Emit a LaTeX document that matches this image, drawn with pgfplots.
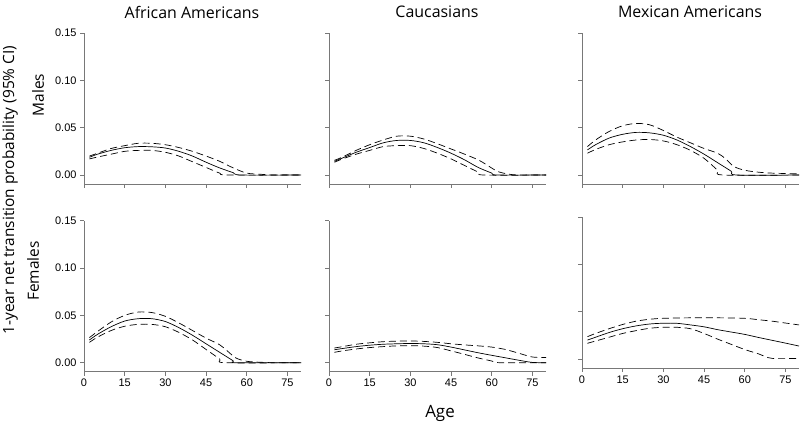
\documentclass[border=0pt]{standalone}
\usepackage{pgfplots}
\pgfplotsset{compat=1.18}
\usepackage{fontspec}
\setmainfont{Liberation Sans}
\newfontfamily\labfont{Open Sans}
\definecolor{axgray}{RGB}{120,120,120}

\pgfplotsset{
  panel/.style={
    scale only axis, width=217bp, height=151bp,
    xmin=0, xmax=80, ymin=-0.0095, ymax=0.15,
    axis x line*=bottom, axis y line*=left,
    axis line style={axgray, line width=0.8bp},
    xtick={0,15,...,75}, ytick={0,0.05,0.10,0.15},
    tick align=outside, major tick length=4bp,
    tick style={axgray, line width=0.6bp},
    /pgf/number format/assume math mode=true,
    yticklabel style={/pgf/number format/fixed, /pgf/number format/fixed zerofill, /pgf/number format/precision=2},
    ticklabel style={font=\fontsize{11}{12}\selectfont},
    anchor=south west,
  },
  notop/.style={xticklabels={}},
  noleft/.style={yticklabels={}},
  est/.style={black, line width=0.7bp, smooth, tension=0.5},
  ci/.style={black, line width=0.7bp, smooth, tension=0.5, dash pattern=on 7bp off 4bp},
}

\begin{document}
\begin{tikzpicture}[x=1bp, y=1bp]
\useasboundingbox (0,0) rectangle (800,424);

% ---------- Males ----------
\begin{axis}[panel, notop, at={(84bp,240bp)}]
\addplot[est] coordinates {(2,.0187)(5,.022)(10,.026)(15,.0288)(20,.030)(25,.0298)(30,.0285)(35,.025)(40,.020)(45,.0135)(50,.0075)(55,.0025)(58,0)(80,0)};
\addplot[ci] coordinates {(2,.020)(5,.023)(10,.028)(15,.031)(20,.0335)(25,.0335)(30,.032)(35,.029)(40,.025)(45,.020)(50,.0145)(55,.0075)(60,.002)(65,.0008)(70,0)(80,0)};
\addplot[ci] coordinates {(2,.017)(5,.019)(10,.022)(15,.025)(20,.026)(25,.026)(30,.024)(35,.020)(40,.014)(45,.008)(50,.002)(53,0)(80,0)};
\end{axis}

\begin{axis}[panel, notop, noleft, at={(329bp,240bp)}]
\addplot[est] coordinates {(2,.0145)(5,.018)(10,.024)(15,.029)(20,.034)(25,.0365)(30,.0365)(35,.034)(40,.029)(45,.023)(50,.016)(55,.008)(60,.002)(62,0)(80,0)};
\addplot[ci] coordinates {(2,.0155)(5,.019)(10,.026)(15,.032)(20,.037)(25,.041)(30,.041)(35,.038)(40,.033)(45,.0275)(50,.022)(55,.016)(58,.011)(62,.004)(66,.001)(70,0)(80,0)};
\addplot[ci] coordinates {(2,.0135)(5,.017)(10,.022)(15,.026)(20,.030)(25,.031)(30,.031)(35,.028)(40,.023)(45,.017)(50,.010)(55,.003)(57,0)(80,0)};
\end{axis}

\begin{axis}[panel, notop, noleft, at={(582bp,240bp)}]
\addplot[est] coordinates {(2,.0265)(5,.032)(10,.039)(15,.043)(20,.045)(25,.0445)(30,.042)(35,.037)(40,.030)(45,.022)(50,.013)(55,.004)(57,0)(80,0)};
\addplot[ci] coordinates {(2,.030)(5,.037)(10,.046)(15,.052)(20,.0545)(25,.053)(30,.047)(35,.040)(40,.034)(45,.028)(50,.023)(53,.017)(56,.009)(60,.005)(65,.003)(70,.002)(80,.0012)};
\addplot[ci] coordinates {(2,.023)(5,.027)(10,.032)(15,.035)(20,.037)(25,.0375)(30,.036)(35,.032)(40,.026)(45,.0176)(50,.005)(52,0)(80,0)};
\end{axis}

% ---------- Females ----------
\begin{axis}[panel, at={(84bp,52.3bp)}]
\addplot[est] coordinates {(2,.024)(5,.030)(10,.038)(15,.044)(20,.0465)(25,.0465)(30,.0435)(35,.037)(40,.029)(45,.020)(50,.011)(55,.002)(56,0)(80,0)};
\addplot[ci] coordinates {(2,.0265)(5,.033)(10,.043)(15,.050)(20,.0535)(25,.053)(30,.049)(35,.042)(40,.034)(45,.026)(50,.019)(53,.012)(56,.005)(60,.0015)(65,.0005)(70,0)(80,0)};
\addplot[ci] coordinates {(2,.0215)(5,.027)(10,.034)(15,.0385)(20,.0405)(25,.0405)(30,.038)(35,.032)(40,.024)(45,.014)(50,.004)(52,0)(80,0)};
\end{axis}

\begin{axis}[panel, noleft, at={(329bp,52.3bp)}]
\addplot[est] coordinates {(2,.0137)(5,.015)(10,.017)(15,.0185)(20,.0195)(25,.020)(30,.0203)(35,.020)(40,.019)(45,.0165)(50,.0135)(55,.0105)(60,.0078)(65,.0052)(70,.0026)(75,.0003)(80,0)};
\addplot[ci] coordinates {(2,.0155)(5,.017)(10,.0195)(15,.021)(20,.0222)(25,.0228)(30,.023)(35,.0225)(40,.0215)(45,.020)(50,.0188)(55,.0178)(60,.0165)(65,.014)(70,.010)(75,.006)(80,.0056)};
\addplot[ci] coordinates {(2,.011)(5,.0125)(10,.0145)(15,.016)(20,.017)(25,.0178)(30,.018)(35,.0175)(40,.016)(45,.0125)(50,.0088)(55,.005)(60,.0018)(63,0)(80,0)};
\end{axis}

\begin{axis}[panel, noleft, at={(582bp,56bp)}]
\addplot[est] coordinates {(2,.020)(5,.023)(10,.028)(15,.032)(20,.035)(25,.037)(30,.0378)(35,.0377)(40,.036)(45,.034)(50,.031)(55,.0285)(60,.026)(65,.0228)(70,.0198)(75,.0168)(80,.0137)};
\addplot[ci] coordinates {(2,.0236)(5,.027)(10,.032)(15,.0365)(20,.040)(25,.042)(30,.043)(40,.0435)(50,.0435)(60,.043)(65,.0415)(70,.040)(75,.038)(80,.036)};
\addplot[ci] coordinates {(2,.0166)(5,.019)(10,.023)(15,.027)(20,.030)(25,.0325)(30,.0335)(35,.0335)(40,.032)(45,.027)(50,.021)(55,.0155)(60,.010)(65,.0055)(70,.0007)(80,.0007)};
\end{axis}

% ---------- labels ----------
\begin{scope}[every node/.style={font=\labfont\fontsize{15.5}{17}\selectfont, inner sep=0pt}]
\node[font=\labfont\fontsize{16}{18}\selectfont] at (192,412) {African Americans};
\node[font=\labfont\fontsize{16}{18}\selectfont] at (437,412) {Caucasians};
\node[font=\labfont\fontsize{16}{18}\selectfont] at (690,412) {Mexican Americans};
\node[rotate=90] at (38,329) {Males};
\node[rotate=90] at (33,153) {Females};
\node[rotate=90] at (10,234) {1-year net transition probability (95\% CI)};
\node[font=\labfont\fontsize{17}{19}\selectfont] at (440,11) {Age};
\end{scope}
\end{tikzpicture}
\end{document}
